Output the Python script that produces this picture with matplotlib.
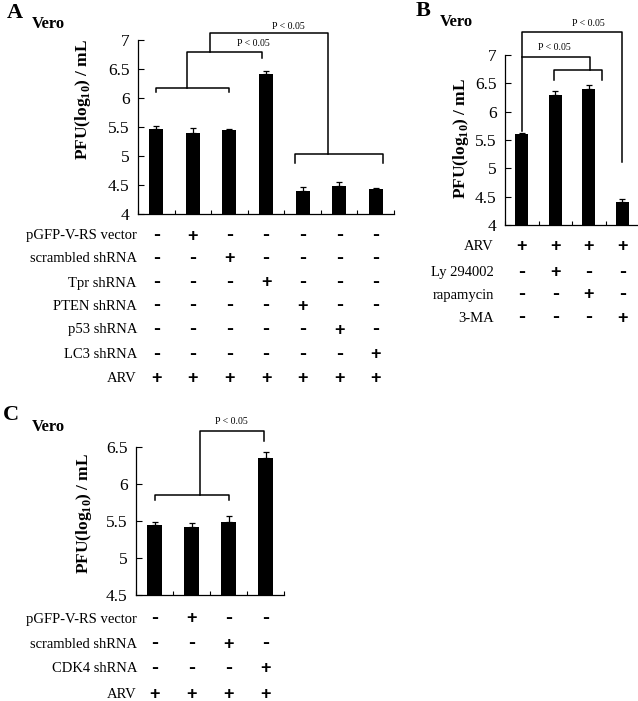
import matplotlib
matplotlib.use("Agg")
import matplotlib.pyplot as plt
import matplotlib.transforms as mtransforms
import numpy as np

plt.rcParams['font.family'] = ['Liberation Serif', 'DejaVu Serif']
plt.rcParams['mathtext.fontset'] = 'custom'
plt.rcParams['mathtext.rm'] = 'Liberation Serif'
plt.rcParams['mathtext.bf'] = 'Liberation Serif:bold'

# panel A data
a_values = [5.47, 5.40, 5.44, 6.42, 4.40, 4.49, 4.43]
a_errors = [0.05, 0.08, 0.03, 0.04, 0.07, 0.07, 0.02]
a_labels = ["pGFP-V-RS vector", "scrambled shRNA", "Tpr shRNA", "PTEN shRNA",
            "p53 shRNA", "LC3 shRNA", "ARV"]
a_signs = ["-+-----", "--+----", "---+---", "----+--", "-----+-", "------+", "+++++++"]

# panel B data
b_values = [5.61, 6.30, 6.40, 4.40]
b_errors = [0.02, 0.06, 0.07, 0.05]
b_labels = ["ARV", "Ly 294002", "rapamycin", "3-MA"]
b_signs = ["++++", "-+--", "--+-", "---+"]

# panel C data
c_values = [5.45, 5.42, 5.49, 6.35]
c_errors = [0.04, 0.05, 0.08, 0.08]
c_labels = ["pGFP-V-RS vector", "scrambled shRNA", "CDK4 shRNA", "ARV"]
c_signs = ["-+--", "--+-", "---+", "++++"]

W, H = 638, 701
fig = plt.figure(figsize=(W / 100, H / 100), dpi=100)


def px_axes(left, right, top, bottom):
    return fig.add_axes([left / W, 1 - bottom / H, (right - left) / W, (bottom - top) / H])


def bar_panel(ax, values, errors, ylim, yticks):
    x = np.arange(len(values))
    ax.bar(x, values, width=0.38, color='black', zorder=2)
    ax.errorbar(x, values, yerr=[np.zeros(len(values)), errors], fmt='none',
                ecolor='black', elinewidth=0.9, capsize=2.2, capthick=0.9, zorder=3)
    ax.set_xlim(-0.5, len(values) - 0.5)
    ax.set_ylim(*ylim)
    ax.set_yticks(yticks)
    ax.set_yticklabels([f"{t:g}" for t in yticks], fontsize=12.5)
    ax.set_xticks(np.arange(len(values) + 1) - 0.5)
    ax.set_xticklabels([])
    ax.tick_params(axis='both', direction='in', width=0.8)
    ax.tick_params(axis='y', length=4, pad=6)
    ax.tick_params(axis='x', length=3)
    for s in ['top', 'right']:
        ax.spines[s].set_visible(False)
    for s in ['left', 'bottom']:
        ax.spines[s].set_linewidth(0.9)


def line(ax, xs, ys):
    ax.plot(xs, ys, color='black', lw=1.1, clip_on=False, zorder=4)


def ptext(ax, x, y):
    ax.text(x, y, "P < 0.05", fontsize=7, ha='center', va='center', clip_on=False)


def sign_table(ax, labels, signs, rows_px, label_px):
    trans = mtransforms.blended_transform_factory(ax.transData, fig.transFigure)
    for lab, row, ypx in zip(labels, signs, rows_px):
        yf = 1 - ypx / H
        fig.text(label_px / W, yf, lab, fontsize=10.5, ha='right', va='center')
        for i, s in enumerate(row):
            if s == '+':
                ax.text(i, yf, s, transform=trans, fontsize=13, fontweight='bold',
                        family='Liberation Sans', ha='center', va='center')
            else:
                ax.text(i, yf + 1.5 / H, s, transform=trans, fontsize=15, fontweight='bold',
                        family='Liberation Sans', ha='center', va='center')


ylab = r'PFU(log$_{\mathbf{10}}$) / mL'

# ---- A ----
axA = px_axes(138, 394, 40, 214)
bar_panel(axA, a_values, a_errors, (4, 7), [4, 4.5, 5, 5.5, 6, 6.5, 7])
line(axA, [0, 0, 2, 2], [6.11, 6.18, 6.18, 6.11])
line(axA, [0.85, 0.85, 2.9, 2.9], [6.18, 6.79, 6.79, 6.69])
line(axA, [1.47, 1.47, 4.7, 4.7], [6.79, 7.12, 7.12, 5.03])
line(axA, [3.8, 3.8, 6.2, 6.2], [4.88, 5.03, 5.03, 4.88])
ptext(axA, 2.65, 6.94)
ptext(axA, 3.6, 7.24)
sign_table(axA, a_labels, a_signs, [236, 259, 283, 306, 330, 355, 379], 137)
fig.text(83 / W, 1 - 99 / H, ylab, rotation=90, fontsize=12.5, fontweight='bold',
         ha='center', va='center')
fig.text(15 / W, 1 - 13 / H, "A", fontsize=16, fontweight='bold', ha='center', va='center')
fig.text(32 / W, 1 - 24 / H, "Vero", fontsize=12, fontweight='bold', ha='left', va='center')

# ---- B ----
axB = px_axes(505, 639, 55, 225)
bar_panel(axB, b_values, b_errors, (4, 7), [4, 4.5, 5, 5.5, 6, 6.5, 7])
line(axB, [0, 0, 3, 3], [5.65, 7.40, 7.40, 5.12])
line(axB, [0, 2.05, 2.05], [6.96, 6.96, 6.74])
line(axB, [0.95, 0.95, 2.4, 2.4], [6.56, 6.74, 6.74, 6.56])
ptext(axB, 2.0, 7.55)
ptext(axB, 0.98, 7.14)
sign_table(axB, b_labels, b_signs, [247, 273, 295, 318], 494)
fig.text(461 / W, 1 - 138 / H, ylab, rotation=90, fontsize=12.5, fontweight='bold',
         ha='center', va='center')
fig.text(423 / W, 1 - 11 / H, "B", fontsize=16, fontweight='bold', ha='center', va='center')
fig.text(440 / W, 1 - 22 / H, "Vero", fontsize=12, fontweight='bold', ha='left', va='center')

# ---- C ----
axC = px_axes(136, 284, 447, 595)
bar_panel(axC, c_values, c_errors, (4.5, 6.5), [4.5, 5, 5.5, 6, 6.5])
line(axC, [0, 0, 2, 2], [5.78, 5.85, 5.85, 5.78])
line(axC, [1.24, 1.24, 2.97, 2.97], [5.85, 6.72, 6.72, 6.58])
ptext(axC, 2.08, 6.84)
sign_table(axC, c_labels, c_signs, [619, 644, 669, 694], 137)
fig.text(84 / W, 1 - 513 / H, ylab, rotation=90, fontsize=12.5, fontweight='bold',
         ha='center', va='center')
fig.text(11 / W, 1 - 415 / H, "C", fontsize=16, fontweight='bold', ha='center', va='center')
fig.text(32 / W, 1 - 427 / H, "Vero", fontsize=12, fontweight='bold', ha='left', va='center')

fig.savefig("out.png", dpi=100)
